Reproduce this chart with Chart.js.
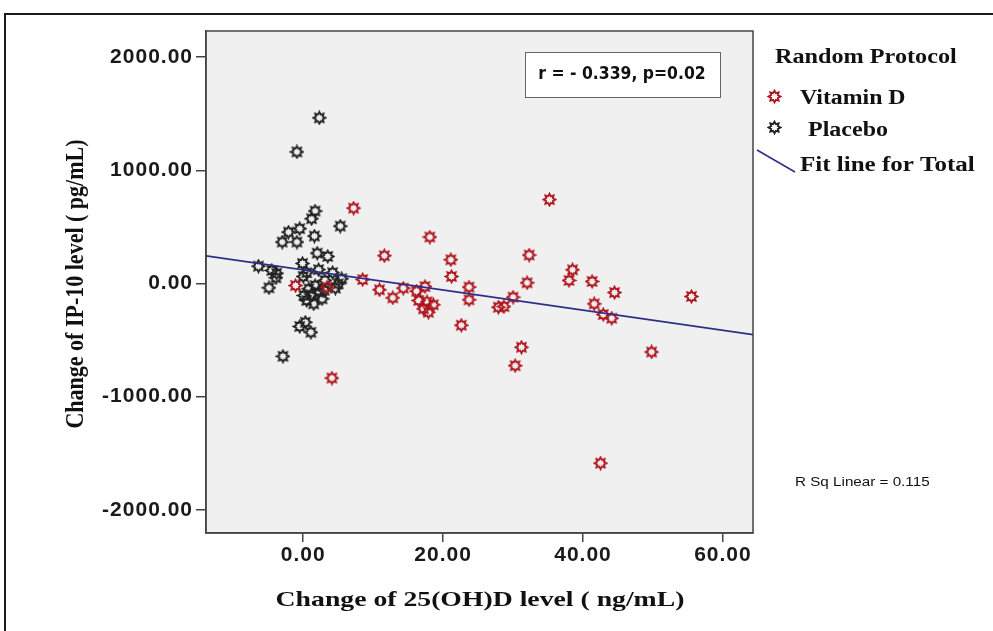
<!DOCTYPE html>
<html lang="en">
<head>
<meta charset="UTF-8">
<title>IP-10 vs 25(OH)D change</title>
<script src="https://cdn.jsdelivr.net/npm/chart.js"></script>
<style>
    html, body { margin: 0; padding: 0; background: #fff; }
    canvas { display: block; }
</style>
</head>
<body>
<canvas id="scatter" width="993" height="631"></canvas>
<script>
// change of 25(OH)D (ng/mL) vs change of IP-10 (pg/mL), one point per subject
const vitDX = [7.2, -1.1, 3.4, 4.1, 8.5, 35.2, 18.1, 11.6, 21.1, 32.3, 21.2, 32.0, 10.9, 12.8,
    14.3, 16.2, 17.4, 16.5, 17.7, 18.6, 17.2, 17.9, 23.7, 23.7, 30.0, 27.9, 28.7, 22.6, 31.2,
    30.3, 38.5, 38.0, 41.3, 44.5, 41.6, 42.9, 44.1, 55.5, 49.8, 42.5];
const vitDY = [666, -18, -33, -835, 35, 741, 410, 245, 210, 251, 62, 6, -56, -127,
    -41, -68, -27, -150, -162, -188, -224, -254, -32, -144, -121, -210, -204, -369, -563,
    -726, 121, 27, 18, -80, -180, -274, -307, -115, -605, -1587];

const placeboX = [2.3, -0.9, 1.7, 1.2, 5.3, -2.1, -0.5, -3.0, -0.9, 1.6, 2.0, 3.5, -6.4, -4.5,
    -3.8, -3.9, -0.1, 0.5, 2.2, 4.2, 5.5, -4.9, 0.8, 1.7, 4.6, 5.0, 0.1, 1.2, 2.2, 0.5, 1.5,
    2.7, 3.1, 0.3, -0.5, 1.1, -2.9, 0.0, 3.0];
const placeboY = [1463, 1162, 640, 572, 507, 454, 484, 366, 366, 419, 268, 239, 153, 115,
    90, 50, 177, 95, 122, 96, 42, -38, -47, -18, -41, -3, -106, -100, -77, -150, -180,
    -135, 27, -342, -380, -431, -643, 62, -60];

// linear fit for all subjects, end points at the axis limits
const fitX = [-13.9, 64.3];
const fitY = [244, -452];

const xTicks = [0, 20, 40, 60];
const yTicks = [-2000, -1000, 0, 1000, 2000];
const xRange = [-13.9, 64.3];
const yRange = [-2204, 2230];

const RED = '#b0161e';
const DARK = '#222';

// little 8-point "gear" marker used for every point
function makeStar(color) {
    const c = document.createElement('canvas');
    c.width = 15; c.height = 15;
    const g = c.getContext('2d');
    g.strokeStyle = color;
    g.lineWidth = 1.8;
    g.beginPath();
    for (let i = 0; i < 16; i++) {
        const r = i % 2 ? 3.6 : 5.9;
        const a = i * Math.PI / 8 - Math.PI / 2;
        const x = 7.5 + r * Math.cos(a), y = 7.5 + r * Math.sin(a);
        if (i === 0) g.moveTo(x, y); else g.lineTo(x, y);
    }
    g.closePath();
    g.stroke();
    return c;
}
const redStar = makeStar(RED);
const darkStar = makeStar(DARK);

function toPoints(xs, ys) {
    return xs.map((x, i) => ({ x: x, y: ys[i] }));
}

// text drawn a bit wider than the font, like the exported figure
function wideText(ctx, text, x, y, font, align, sx, rotate) {
    ctx.save();
    ctx.font = font;
    ctx.fillStyle = '#111';
    ctx.textAlign = align;
    ctx.textBaseline = 'middle';
    ctx.letterSpacing = '0px';
    ctx.translate(x, y);
    if (rotate) {
        ctx.rotate(-Math.PI / 2);
        ctx.scale(1, sx);
    } else {
        ctx.scale(sx, 1);
    }
    ctx.fillText(text, 0, 0);
    ctx.restore();
}

const serifBold = (size) => 'bold ' + size + 'px "Liberation Serif", "Times New Roman", serif';

const framePlugin = {
    id: 'frame',
    beforeDraw(chart) {
        const { ctx, chartArea: a } = chart;
        ctx.save();
        ctx.fillStyle = '#fff';
        ctx.fillRect(0, 0, chart.width, chart.height);
        ctx.fillStyle = '#f0f0f0';
        ctx.fillRect(a.left, a.top, a.right - a.left, a.bottom - a.top);
        // outer figure frame
        ctx.strokeStyle = '#1a1a1a';
        ctx.lineWidth = 2;
        ctx.beginPath();
        ctx.moveTo(5, 631);
        ctx.lineTo(5, 14);
        ctx.lineTo(993, 14);
        ctx.stroke();
        ctx.restore();
        ctx.letterSpacing = '1px';
    },
    beforeDatasetsDraw(chart) {
        const { ctx, chartArea: a } = chart;
        ctx.save();
        ctx.strokeStyle = '#444';
        ctx.lineWidth = 1.5;
        ctx.strokeRect(a.left, a.top, a.right - a.left, a.bottom - a.top);
        ctx.restore();
    },
    afterDraw(chart) {
        const { ctx, chartArea: a } = chart;
        const L = a.right;

        // axis titles
        wideText(ctx, 'Change of IP-10 level ( pg/mL)', 76, 284, serifBold(22), 'center', 1.17, true);
        wideText(ctx, 'Change of 25(OH)D level ( ng/mL)', 480, 600, serifBold(22), 'center', 1.26);

        // correlation box
        ctx.save();
        ctx.fillStyle = '#fff';
        ctx.fillRect(525, 52, 195, 45);
        ctx.strokeStyle = '#666';
        ctx.lineWidth = 1;
        ctx.strokeRect(525.5, 52.5, 195, 45);
        ctx.restore();
        wideText(ctx, 'r = - 0.339, p=0.02', 622, 75, 'bold 17px "DejaVu Sans", sans-serif', 'center', 0.92);

        // legend
        wideText(ctx, 'Random Protocol', L + 22, 58, serifBold(20), 'left', 1.21);
        ctx.drawImage(redStar, L + 14, 89);
        wideText(ctx, 'Vitamin D', L + 47, 99, serifBold(20), 'left', 1.19);
        ctx.drawImage(darkStar, L + 14, 120);
        wideText(ctx, 'Placebo', L + 55, 131, serifBold(20), 'left', 1.2);
        ctx.save();
        ctx.strokeStyle = '#2e2e8a';
        ctx.lineWidth = 1.5;
        ctx.beginPath();
        ctx.moveTo(L + 4, 150);
        ctx.lineTo(L + 42, 172);
        ctx.stroke();
        ctx.restore();
        wideText(ctx, 'Fit line for Total', L + 47, 166, serifBold(20), 'left', 1.25);

        wideText(ctx, 'R Sq Linear = 0.115', L + 42, 482, '13px "Liberation Sans", Arial, sans-serif', 'left', 1.17);
    }
};

const tickFont = { family: '"Liberation Sans", Arial, sans-serif', size: 21, weight: 'bold' };

new Chart(document.getElementById('scatter'), {
    type: 'scatter',
    data: {
        datasets: [
            {
                label: 'Placebo',
                data: toPoints(placeboX, placeboY),
                pointStyle: darkStar,
                order: 3
            },
            {
                label: 'Vitamin D',
                data: toPoints(vitDX, vitDY),
                pointStyle: redStar,
                order: 2
            },
            {
                type: 'line',
                label: 'Fit line for Total',
                data: toPoints(fitX, fitY),
                borderColor: '#2e2e8a',
                borderWidth: 1.6,
                pointRadius: 0,
                fill: false,
                order: 1
            }
        ]
    },
    options: {
        responsive: false,
        animation: false,
        layout: { padding: { left: 64, right: 240, top: 31, bottom: 0 } },
        plugins: {
            legend: { display: false },
            tooltip: { enabled: false }
        },
        scales: {
            x: {
                type: 'linear',
                min: xRange[0],
                max: xRange[1],
                afterBuildTicks: s => { s.ticks = xTicks.map(v => ({ value: v })); },
                afterFit: s => { s.height = 98; },
                grid: { drawOnChartArea: false, drawTicks: true, tickLength: 9, color: '#444', lineWidth: 1.5 },
                border: { display: true, color: '#444', width: 1.5 },
                ticks: {
                    font: tickFont,
                    color: '#1a1a1a',
                    padding: 1,
                    maxRotation: 0,
                    autoSkip: false,
                    callback: v => v.toFixed(2)
                }
            },
            y: {
                type: 'linear',
                min: yRange[0],
                max: yRange[1],
                afterBuildTicks: s => { s.ticks = yTicks.map(v => ({ value: v })); },
                afterFit: s => { s.width = 142; },
                grid: { drawOnChartArea: false, drawTicks: true, tickLength: 10, color: '#444', lineWidth: 1.5 },
                border: { display: true, color: '#444', width: 1.5 },
                ticks: {
                    font: tickFont,
                    color: '#1a1a1a',
                    padding: 3,
                    autoSkip: false,
                    callback: v => v.toFixed(2)
                }
            }
        }
    },
    plugins: [framePlugin]
});
</script>
</body>
</html>
